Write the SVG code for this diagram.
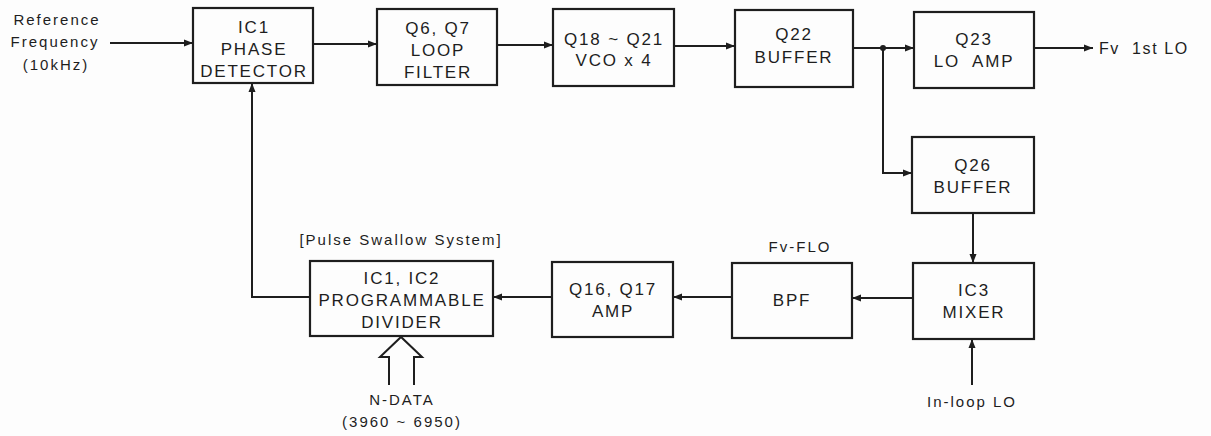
<svg xmlns="http://www.w3.org/2000/svg" width="1211" height="436" viewBox="0 0 1211 436">
<defs>
<marker id="ah" markerUnits="userSpaceOnUse" markerWidth="10" markerHeight="8" refX="9" refY="4" orient="auto">
<path d="M0,0.5 L9,4 L0,7.5 z" fill="#1e1e1e"/>
</marker>
<style>
.box{fill:none;stroke:#1e1e1e;stroke-width:2.2}
.bt{font-family:"Liberation Sans",Arial,sans-serif;font-size:17px;letter-spacing:1.8px;fill:#1e1e1e;text-anchor:middle;white-space:pre}
.lb{font-family:"Liberation Sans",Arial,sans-serif;font-size:15px;letter-spacing:2px;fill:#1e1e1e;white-space:pre}
.c{fill:none;stroke:#1e1e1e;stroke-width:2}
.ca{fill:none;stroke:#1e1e1e;stroke-width:2;marker-end:url(#ah)}
</style>
</defs>
<rect width="1211" height="436" fill="#fdfdfd"/>
<g id="ic1"><rect class="box" x="193" y="8" width="120" height="75"/>
<text class="bt" x="254" y="33">IC1</text><text class="bt" x="254" y="55">PHASE</text><text class="bt" x="254" y="77">DETECTOR</text></g>
<g id="q6q7"><rect class="box" x="377" y="9" width="120" height="76"/>
<text class="bt" x="438" y="34">Q6, Q7</text><text class="bt" x="438" y="56">LOOP</text><text class="bt" x="438" y="78">FILTER</text></g>
<g id="vco"><rect class="box" x="553" y="9" width="121" height="77"/>
<text class="bt" x="614" y="45">Q18 ~ Q21</text><text class="bt" x="614" y="66">VCO x 4</text></g>
<g id="q22"><rect class="box" x="735" y="10" width="118" height="77"/>
<text class="bt" x="794" y="40">Q22</text><text class="bt" x="794" y="63">BUFFER</text></g>
<g id="q23"><rect class="box" x="914" y="12" width="120" height="76"/>
<text class="bt" x="974" y="45">Q23</text><text class="bt" x="974" y="67">LO  AMP</text></g>
<g id="q26"><rect class="box" x="912" y="137" width="122" height="76"/>
<text class="bt" x="973" y="171">Q26</text><text class="bt" x="973" y="193">BUFFER</text></g>
<g id="mixer"><rect class="box" x="913" y="263" width="121" height="76"/>
<text class="bt" x="974" y="296">IC3</text><text class="bt" x="974" y="318">MIXER</text></g>
<g id="bpf"><rect class="box" x="732" y="263" width="120" height="75"/>
<text class="bt" x="792" y="306">BPF</text></g>
<g id="q16q17"><rect class="box" x="552" y="262" width="121" height="75"/>
<text class="bt" x="613" y="295">Q16, Q17</text><text class="bt" x="613" y="317">AMP</text></g>
<g id="divider"><rect class="box" x="310" y="261" width="183" height="75"/>
<text class="bt" x="402" y="284">IC1, IC2</text><text class="bt" x="402" y="306">PROGRAMMABLE</text><text class="bt" x="402" y="328">DIVIDER</text></g>
<g id="connectors">
<line class="ca" x1="110" y1="43" x2="193" y2="43"/>
<line class="ca" x1="313" y1="44" x2="377" y2="44"/>
<line class="ca" x1="497" y1="45" x2="553" y2="45"/>
<line class="ca" x1="674" y1="46" x2="735" y2="46"/>
<line class="ca" x1="853" y1="48" x2="914" y2="48"/>
<circle cx="883" cy="48" r="3" fill="#1e1e1e"/>
<line class="ca" x1="1034" y1="48" x2="1093" y2="48"/>
<polyline class="ca" points="883,48 883,173 912,173"/>
<line class="ca" x1="973" y1="213" x2="973" y2="263"/>
<line class="ca" x1="972" y1="385" x2="972" y2="339"/>
<line class="ca" x1="913" y1="298" x2="852" y2="298"/>
<line class="ca" x1="732" y1="297" x2="673" y2="297"/>
<line class="ca" x1="552" y1="297" x2="493" y2="297"/>
<polyline class="ca" points="310,297 252,297 252,83"/>
<path class="c" d="M389,385 L389,357 L380,357 L401,337 L422,357 L414,357 L414,385"/>
</g>
<g id="labels">
<text class="lb" x="57" y="25" text-anchor="middle">Reference</text>
<text class="lb" x="55" y="47" text-anchor="middle">Frequency</text>
<text class="lb" x="56" y="70" text-anchor="middle">(10kHz)</text>
<text class="lb" x="1099" y="54" style="font-size:16px;letter-spacing:1.6px">Fv  1st LO</text>
<text class="lb" x="401" y="245" text-anchor="middle">[Pulse Swallow System]</text>
<text class="lb" x="800" y="252" text-anchor="middle">Fv-FLO</text>
<text class="lb" x="972" y="407" text-anchor="middle">In-loop LO</text>
<text class="lb" x="402" y="405" text-anchor="middle">N-DATA</text>
<text class="lb" x="402" y="427" text-anchor="middle">(3960 ~ 6950)</text>
</g>
</svg>
